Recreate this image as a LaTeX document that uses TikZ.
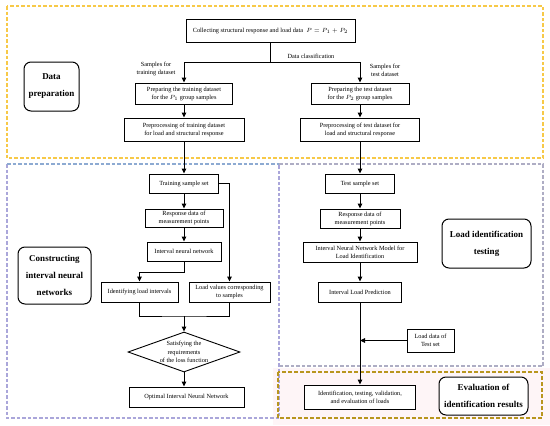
\documentclass[tikz,border=0pt]{standalone}
\usepackage{fontspec}
\setmainfont{Liberation Serif}
\usetikzlibrary{arrows.meta,shapes.geometric}
\definecolor{yel}{HTML}{F7C948}
\definecolor{blu}{HTML}{8DAAD2}
\definecolor{lav}{HTML}{AAA6DA}
\definecolor{gry}{HTML}{AEADC4}
\definecolor{oli}{HTML}{B8961E}
\definecolor{pnk}{HTML}{FEF5F7}
\tikzset{
  box/.style={draw=black,line width=0.9pt,fill=white,inner sep=0pt,align=center,
    font=\fontsize{6.3}{8}\selectfont},
  title/.style={draw=black,line width=1pt,rounded corners=7pt,fill=white,inner sep=0pt,align=center,
    font=\fontsize{9}{17}\selectfont\bfseries},
  lbl/.style={inner sep=0pt,align=center,font=\fontsize{6.3}{8}\selectfont},
  arr/.style={line width=0.9pt,-{Triangle[length=5pt,width=4.5pt]}},
  ln/.style={line width=0.9pt},
  region/.style={line width=1.1pt,dash pattern=on 3.5pt off 2pt}
}
\begin{document}
\begin{tikzpicture}[x=1pt,y=-1pt]
\useasboundingbox (0,0) rectangle (550,426);
\fill[white] (0,0) rectangle (550,426);
% regions
\fill[pnk] (273,368) rectangle (550,425);
\draw[region,yel] (7,6) rectangle (543,158);
\draw[region,lav] (7,164) -- (7,418) -- (279,418) -- (279,164);
\draw[region,blu] (7,164) -- (279,164);
\draw[region,gry] (279,164) -- (543,164) -- (543,366) -- (279,366);
\draw[region,line width=1.4pt,oli,dash pattern=on 4pt off 2pt] (278,372) rectangle (542,418);

% title boxes
\node[title,minimum width=55pt,minimum height=49pt] (dataPrep) at (51.5,86.5) {Data\\preparation};
\node[title,minimum width=73pt,minimum height=57pt] (construct) at (54.5,275.5) {Constructing\\interval neural\\networks};
\node[title,minimum width=89pt,minimum height=49pt] (loadIdTest) at (486.5,243.5) {Load identification\\testing};
\node[title,minimum width=89pt,minimum height=38pt] (evalRes) at (483.5,396) {Evaluation of\\identification results};

% top
\node[box,minimum width=169pt,minimum height=23pt] (collect) at (270.5,30.5) {Collecting structural response and load data \ $P=P_1+P_2$};
\coordinate (junc) at (270.5,62);
\node[lbl] (dclass) at (311,56) {Data classification};
\node[lbl] (strain) at (156,69) {Samples for\\training dataset};
\node[lbl] (stest) at (385,70) {Samples for\\test dataset};
\node[box,minimum width=97pt,minimum height=21pt] (prepTrain) at (184,93.5) {Preparing the training dataset\\for the $P_1$ group samples};
\node[box,minimum width=98pt,minimum height=21pt] (prepTest) at (360,93.5) {Preparing the test dataset\\for the $P_2$ group samples};
\node[box,minimum width=120pt,minimum height=23pt] (procTrain) at (184,129.5) {Preprocessing of training dataset\\for load and structural response};
\node[box,minimum width=119pt,minimum height=23pt] (procTest) at (360,129.5) {Preprocessing of test dataset for\\load and structural response};

% left column
\node[box,minimum width=69pt,minimum height=19pt] (trainSet) at (184,183.5) {Training sample set};
\node[box,minimum width=78pt,minimum height=18pt] (respL) at (184,218) {Response data of\\measurement points};
\node[box,minimum width=74pt,minimum height=19pt] (intNN) at (184,251.5) {Interval neural network};
\node[box,minimum width=77pt,minimum height=20pt] (identL) at (139.5,292) {Identifying load intervals};
\node[box,minimum width=81pt,minimum height=20pt] (loadVal) at (229.5,292) {Load values corresponding\\to samples};
\coordinate (merge) at (184,316);
\node[draw=black,line width=0.9pt,fill=white,diamond,aspect=2.8,inner sep=0pt,
  minimum width=112pt,minimum height=40pt,align=center,font=\fontsize{6.3}{8.5}\selectfont] (dia) at (184,352)
  {Satisfying the\\requirements\\of the loss function};
\node[box,minimum width=115pt,minimum height=20pt] (optimal) at (186.5,397) {Optimal Interval Neural Network};

% right column
\node[box,minimum width=69pt,minimum height=19pt] (testSet) at (360,183.5) {Test sample set};
\node[box,minimum width=80pt,minimum height=19pt] (respR) at (360,218.5) {Response data of\\measurement points};
\node[box,minimum width=114pt,minimum height=20pt] (intModel) at (360,252) {Interval Neural Network Model for\\Load Identification};
\node[box,minimum width=83pt,minimum height=20pt] (intPred) at (360,292) {Interval Load Prediction};
\node[box,minimum width=47pt,minimum height=23pt] (loadTest) at (430.5,340.5) {Load data of\\Test set};
\node[box,minimum width=111pt,minimum height=24pt] (identEval) at (360,397) {Identification, testing, validation,\\and evaluation of loads};

% connectors
\draw[ln] (collect.south) -- (junc);
\draw[arr] (junc) -| (prepTrain.north);
\draw[arr] (junc) -| (prepTest.north);
\draw[arr] (prepTrain) -- (procTrain);
\draw[arr] (prepTest) -- (procTest);
\draw[arr] (procTrain) -- (trainSet);
\draw[arr] (procTest) -- (testSet);
\draw[arr] (trainSet) -- (respL);
\draw[arr] (respL) -- (intNN);
\draw[arr] (intNN.south) -- ++(0,11) -| (identL.north);
\draw[arr] (trainSet.east) -| (loadVal.north);
\draw[ln] (identL.south) |- (merge) -| (loadVal.south);
\draw[arr] (merge) -- (dia.north);
\draw[arr] (dia.south) -- (optimal.north -| dia.south);
\draw[arr] (testSet) -- (respR);
\draw[arr] (respR) -- (intModel);
\draw[arr] (intModel) -- (intPred);
\draw[arr] (intPred) -- (identEval);
\draw[arr] (loadTest.west) -- (loadTest.west -| intPred.south);
\end{tikzpicture}
\end{document}
